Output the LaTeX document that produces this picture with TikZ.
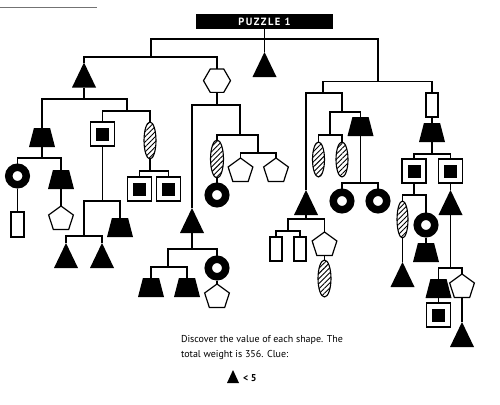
\documentclass[tikz,border=0pt]{standalone}
\usepackage{fontspec}
\setmainfont{PT Sans}
\usetikzlibrary{shapes.geometric,patterns.meta}
\begin{document}
\begin{tikzpicture}[
    x=1pt, y=-1pt,
    wire/.style={line width=1.2pt},
    every node/.style={inner sep=0pt, outer sep=0pt},
    tri/.style={isosceles triangle, isosceles triangle stretches, shape border rotate=90, fill=black, minimum width=24pt, minimum height=25pt, anchor=apex}, % pontando para cima
    trap/.style={trapezium, trapezium stretches, trapezium angle=73, fill=black, inner sep=1pt, minimum width=26pt, minimum height=19pt, anchor=north},
    ring/.style={circle, draw, line width=7.5pt, minimum size=17.5pt, outer sep=3.75pt, anchor=north},
    oval/.style={ellipse, draw, line width=1.1pt, pattern={Lines[angle=45, distance=3.6pt, line width=0.9pt]}, minimum width=12pt, minimum height=37pt, anchor=north},
    qbox/.style={rectangle, draw, line width=1.2pt, fill=white, minimum size=24pt, anchor=north,
      path picture={\fill[black] ([shift={(-6.5pt,-6.5pt)}]path picture bounding box.center) rectangle ([shift={(6.5pt,6.5pt)}]path picture bounding box.center);}},
    rbox/.style={rectangle, draw, line width=1.2pt, minimum width=12pt, minimum height=24pt, anchor=north},
    penta/.style={regular polygon, regular polygon sides=5, draw, line width=1.2pt, minimum size=26pt, anchor=north},
    hexa/.style={regular polygon, regular polygon sides=6, draw, line width=1.2pt, minimum size=27pt, anchor=north}
    ]
    \useasboundingbox (0,0) rectangle (500,404);
    \draw[black!55, line width=0.6pt] (0,7) -- (97,7);

    \node[fill=black, minimum width=137pt, minimum height=15pt, text=white, font=\bfseries\fontsize{10.5}{12}\selectfont\addfontfeature{LetterSpace=14}] (ban) at (264.5,21.5) {PUZZLE 1};
    \node[tri] (tA) at (264.5,52) {};

    % lado esquerdo
    \node[tri] (tB) at (84,62.5) {};
    \node[hexa] (hx) at (217,69) {};
    \node[trap] (zA) at (42,128) {};
    \node[qbox] (qA) at (102.5,122) {};
    \node[oval] (eA) at (150,122) {};
    \node[qbox] (sA) at (139.5,177) {};
    \node[qbox] (sB) at (168.5,177) {};
    \node[trap] (zB) at (120,218) {};
    \node[tri] (tC) at (66,243) {};
    \node[tri] (tD) at (102,243) {};
    \node[ring] (rA) at (17.5,163.5) {};
    \node[rbox, minimum width=13pt, minimum height=25pt] (rcA) at (17.5,212) {};
    \node[trap] (zC) at (61,170) {};
    \node[penta] (pA) at (61,206) {};

    \node[tri] (tE) at (192,208) {};
    \node[oval, minimum width=13pt, minimum height=38pt] (eB) at (217,140) {};
    \node[ring] (rC) at (217,182.5) {};
    \node[penta] (pC) at (240.5,158) {};
    \node[penta] (pD) at (276,158) {};
    \node[trap] (zD) at (151,278) {};
    \node[trap] (zE) at (187,278) {};
    \node[ring] (rB) at (217,255.5) {};
    \node[penta] (pB) at (217,284) {};

    % lado direito
    \node[rbox] (rcD) at (432,93) {};
    \node[tri] (tF) at (306,190) {};
    \node[trap] (zF) at (360.5,117) {};
    \node[oval, minimum height=35pt] (eD) at (318.5,142) {};
    \node[oval, minimum height=35pt] (eE) at (342,142) {};
    \node[ring] (rD) at (342,188.5) {};
    \node[ring] (rE) at (378,188.5) {};
    \node[rbox] (rcB) at (276,237) {};
    \node[rbox] (rcC) at (300,237) {};
    \node[penta] (pE) at (324.5,232) {};
    \node[oval, minimum width=13pt] (eC) at (324.5,260) {};
    \node[trap] (zG) at (432,123) {};
    \node[qbox] (qB) at (414,159) {};
    \node[qbox] (qC) at (450.5,159) {};
    \node[oval, minimum width=11pt] (eF) at (402.5,201) {};
    \node[tri] (tG) at (402.5,262) {};
    \node[ring] (rF) at (426,212.5) {};
    \node[trap] (zH) at (426,243) {};
    \node[tri] (tH) at (450.5,190) {};
    \node[trap] (zI) at (438.5,279) {};
    \node[qbox] (qD) at (438.5,303) {};
    \node[penta] (pF) at (462,274) {};
    \node[tri] (tI) at (462,322) {};

    % pontos das barras
    \coordinate (k0) at (264.5,39);
    \coordinate (k1) at (151,57);
    \coordinate (k2) at (378,81.5);
    \coordinate (k3) at (84,99);
    \coordinate (k4) at (127,111);
    \coordinate (k5) at (150,171);
    \coordinate (k6) at (102.5,201);
    \coordinate (k7) at (84,236);
    \coordinate (k8) at (42,158);
    \coordinate (k9) at (217,105);
    \coordinate (k10) at (240,135);
    \coordinate (k11) at (258,153);
    \coordinate (k12) at (192,249);
    \coordinate (k13) at (168,267);
    \coordinate (k14) at (323,93);
    \coordinate (k15) at (342,112);
    \coordinate (k16) at (330,135);
    \coordinate (k17) at (360.5,183);
    \coordinate (k18) at (306,219);
    \coordinate (k19) at (288,231);
    \coordinate (k20) at (432,154);
    \coordinate (k21) at (414,195);
    \coordinate (k22) at (450.5,268);

    \begin{scope}[wire]
    \draw (ban.south) -- (tA.apex);
    \draw (k1) |- (k0) -| (k2);
    \draw (tB.apex) |- (k1) -| (hx.north);
    \draw (tB.south) -- (k3);
    \draw (zA.north) |- (k3) -| (k4);
    \draw (qA.north) |- (k4) -| (eA.north);
    \draw (eA.south) -- (k5);
    \draw (sA.north) |- (k5) -| (sB.north);
    \draw (qA.south) -- (k6);
    \draw (k7) |- (k6) -| (zB.north);
    \draw (tC.apex) |- (k7) -| (tD.apex);
    \draw (zA.south) -- (k8);
    \draw (rA.north) |- (k8) -| (zC.north);
    \draw (rA.south) -- (rcA.north);
    \draw (zC.south) -- (pA.north);
    \draw (hx.south) -- (k9);
    \draw (tE.apex) |- (k9) -| (k10);
    \draw (eB.north) |- (k10) -| (k11);
    \draw (eB.south) -- (rC.north);
    \draw (pC.north) |- (k11) -| (pD.north);
    \draw (tE.south) -- (k12);
    \draw (k13) |- (k12) -| (rB.north);
    \draw (zD.north) |- (k13) -| (zE.north);
    \draw (rB.south) -- (pB.north);
    \draw (k14) |- (k2) -| (rcD.north);
    \draw (tF.apex) |- (k14) -| (k15);
    \draw (k16) |- (k15) -| (zF.north);
    \draw (eD.north) |- (k16) -| (eE.north);
    \draw (zF.south) -- (k17);
    \draw (rD.north) |- (k17) -| (rE.north);
    \draw (tF.south) -- (k18);
    \draw (k19) |- (k18) -| (pE.north);
    \draw (rcB.north) |- (k19) -| (rcC.north);
    \draw (pE.south) -- (eC.north);
    \draw (rcD.south) -- (zG.north);
    \draw (zG.south) -- (k20);
    \draw (qB.north) |- (k20) -| (qC.north);
    \draw (qB.south) -- (k21);
    \draw (eF.north) |- (k21) -| (rF.north);
    \draw (eF.south) -- (tG.apex);
    \draw (rF.south) -- (zH.north);
    \draw (qC.south) -- (tH.apex);
    \draw (tH.south) -- (k22);
    \draw (zI.north) |- (k22) -| (pF.north);
    \draw (zI.south) -- (qD.north);
    \draw (pF.south) -- (tI.apex);
    \end{scope}

    \node[anchor=base west, font=\fontsize{10}{12}\selectfont] (txa) at (181,342) {Discover the value of each shape. The};
    \node[anchor=base west, font=\fontsize{10}{12}\selectfont] (txb) at (181,357) {total weight is 356. Clue:};
    \node[tri, minimum width=12pt, minimum height=13pt] (tK) at (233,370) {};
    \node[anchor=base west, font=\bfseries\fontsize{10}{12}\selectfont] (txc) at (243,381) {< 5};
\end{tikzpicture}
\end{document}
